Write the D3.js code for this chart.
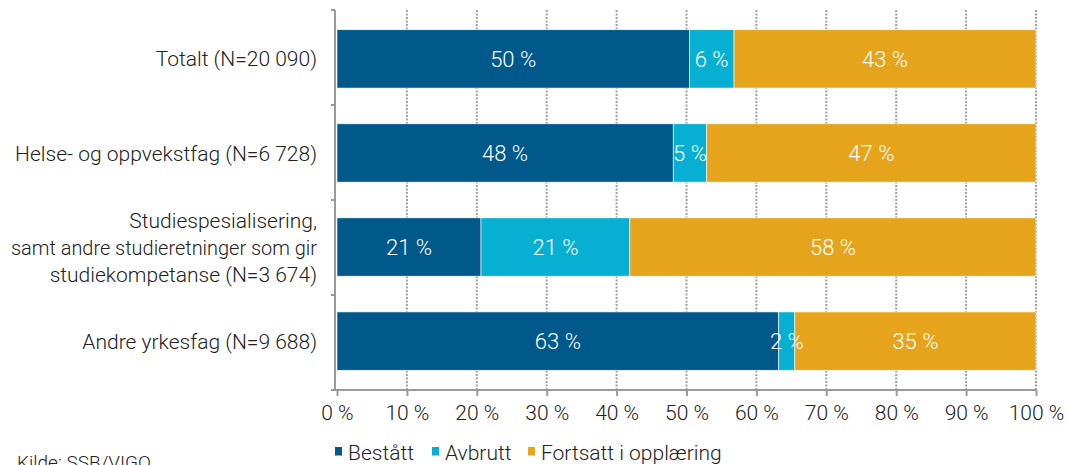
<!DOCTYPE html>
<html><head><meta charset="utf-8">
<script src="https://cdn.jsdelivr.net/npm/d3@7"></script>
<style>
body{margin:0;background:#fff;}
svg{display:block;font-family:Roboto, "Noto Sans", sans-serif;}
</style></head>
<body><svg id="c" width="1066" height="465"></svg>
<script>
const categories = [
  ["Totalt (N=20 090)"],
  ["Helse- og oppvekstfag (N=6 728)"],
  ["Studiespesialisering,", "samt andre studieretninger som gir", "studiekompetanse (N=3 674)"],
  ["Andre yrkesfag (N=9 688)"]
];
const seriesNames = ["Bestått", "Avbrutt", "Fortsatt i opplæring"];
const bestatt  = [50.4, 48.1, 20.6, 63.2];
const avbrutt  = [6.4, 4.8, 21.3, 2.3];
const fortsatt = [43.2, 47.1, 58.1, 34.5];
const colors = ["#00598A", "#07AFD2", "#E5A41B"];
const xTicks = [0,10,20,30,40,50,60,70,80,90,100];
const source = "Kilde: SSB/VIGO";

const svg = d3.select("#c");
const m = {left:337, right:1036, top:10, bottom:390};
const x = d3.scaleLinear().domain([0,100]).range([m.left, m.right]);
const y = d3.scaleBand().domain(d3.range(categories.length)).range([m.top, m.bottom]).paddingInner(0.38).paddingOuter(0.21);

// gridlines
svg.append("g").selectAll("line").data(xTicks.slice(1)).join("line")
  .attr("x1", d=>x(d)).attr("x2", d=>x(d)).attr("y1", m.top).attr("y2", m.bottom)
  .attr("stroke", "#a0a0a0").attr("stroke-width", 2).attr("stroke-dasharray", "2,1.5");

const rows = categories.map((c,i)=>({i, vals:[bestatt[i], avbrutt[i], fortsatt[i]]}));
const stackData = rows.map(r=>{
  let acc=0; return r.vals.map((v,k)=>{const s={i:r.i,k,x0:acc,x1:acc+v,v}; acc+=v; return s;});
}).flat();

svg.append("g").selectAll("rect").data(stackData).join("rect")
  .attr("x", d=>x(d.x0)).attr("width", d=>x(d.x1)-x(d.x0))
  .attr("y", d=>y(d.i)).attr("height", y.bandwidth())
  .attr("fill", d=>colors[d.k]).attr("stroke", "#fff").attr("stroke-width", 0.6);

svg.append("g").selectAll("text").data(stackData).join("text")
  .attr("x", d=>(x(d.x0)+x(d.x1))/2).attr("y", d=>y(d.i)+y.bandwidth()/2)
  .attr("dy", "0.36em").attr("text-anchor", "middle")
  .attr("fill", "#fff").style("font-size", "22px").style("font-weight", 300)
  .text(d=>Math.round(d.v)+" %");

// y axis
const yAxis = svg.append("g");
yAxis.append("line").attr("x1", 335).attr("x2", 335).attr("y1", m.top).attr("y2", m.bottom)
  .attr("stroke", "#9a9a9a").attr("stroke-width", 2);
const bounds = d3.range(categories.length+1).map(i=>m.top + i*(m.bottom-m.top)/categories.length);
yAxis.selectAll("line.t").data(bounds).join("line").attr("class","t")
  .attr("x1", 331).attr("x2", 335).attr("y1", d=>d).attr("y2", d=>d)
  .attr("stroke", "#9a9a9a").attr("stroke-width", 2);

// category labels
const lab = svg.append("g");
const maxW = 306;
categories.forEach((lines,i)=>{
  const cy = y(i)+y.bandwidth()/2;
  const lh = 27;
  lines.forEach((t,j)=>{
    const tx = lab.append("text").attr("x", 317).attr("y", cy + (j-(lines.length-1)/2)*lh)
      .attr("dy","0.36em").attr("text-anchor","end").attr("fill","#222")
      .style("font-size","21px").style("font-weight",300).text(t);
    const w = tx.node().getComputedTextLength();
    if (w > maxW) tx.attr("textLength", maxW).attr("lengthAdjust", "spacingAndGlyphs");
  });
});

// x axis
const xAxis = d3.axisBottom(x).tickValues(xTicks).tickFormat(d=>d+" %").tickSize(6).tickPadding(12);
const gx = svg.append("g").attr("transform", `translate(0,${m.bottom})`).call(xAxis);
gx.select(".domain").attr("stroke","#9a9a9a").attr("stroke-width",2).attr("d", `M335,0H${m.right}`);
gx.selectAll(".tick line").attr("stroke","#9a9a9a").attr("stroke-width",2).attr("y1",0);
gx.selectAll(".tick text").attr("fill","#222").attr("y", 22).attr("dy","0.36em")
  .style("font-size","21px").style("font-weight",300).style("font-family","Roboto");

// legend
const legX = [335, 432, 528];
const leg = svg.append("g");
seriesNames.forEach((n,k)=>{
  leg.append("rect").attr("x", legX[k]).attr("y", 447).attr("width", 7).attr("height", 8.5).attr("fill", colors[k]);
  leg.append("text").attr("x", legX[k]+13).attr("y", 460).attr("fill","#222")
    .style("font-size","21px").style("font-weight",300).text(n);
});

svg.append("text").attr("x", 17).attr("y", 469).attr("fill","#222")
  .style("font-size","19px").style("font-weight",300).text(source);
</script></body></html>
